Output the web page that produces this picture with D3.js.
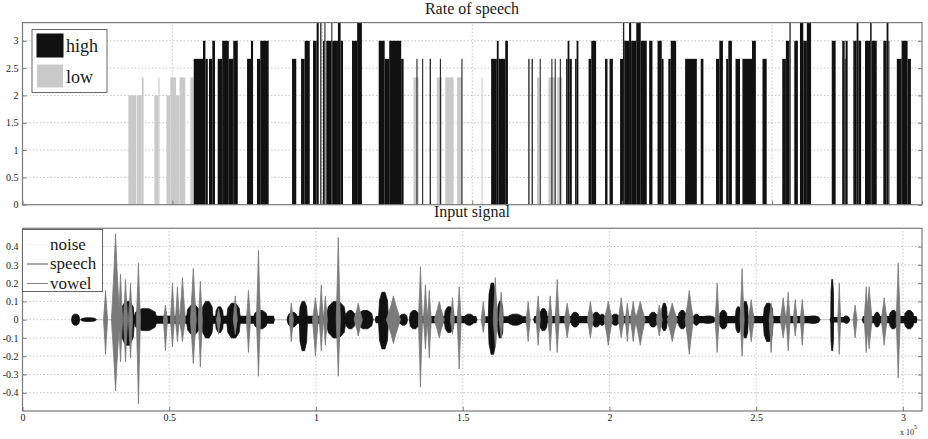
<!DOCTYPE html>
<html><head><meta charset="utf-8">
<script src="https://cdn.jsdelivr.net/npm/d3@7"></script>
<style>
body{margin:0;background:#fff}
svg{display:block}
svg text{font-family:"Liberation Serif","DejaVu Serif","Times New Roman",serif !important}
</style>
</head><body>
<svg id="chart" width="928" height="439"></svg>
<script>
// ---------- DATA ----------
const rateTitle = "Rate of speech";
const signalTitle = "Input signal";
const rateYTicks = [0, 0.5, 1, 1.5, 2, 2.5, 3];
const frameTicks = [0, 50, 100, 150, 200, 250, 300];
const signalYTicks = [-0.4, -0.3, -0.2, -0.1, 0, 0.1, 0.2, 0.3, 0.4];
const signalXTicks = [0, 0.5, 1, 1.5, 2, 2.5, 3];
const rateLegend = ["high", "low"];
const signalLegend = ["noise", "speech", "vowel"];

// rate of speech per frame: [startFrame, endFrame, rate]
const lowRate = [
  [35.3,38.0,2],[38.2,39.8,2],[39.8,40.4,2.33],[44.0,45.3,2],[45.3,45.7,2.33],
  [48.0,49.3,2],[49.3,51.2,2.33],[51.2,52.4,2],[52.4,54.3,2.33],[56.0,57.0,2.33],
  [130.4,132.1,2.33],[138.2,139.9,2.33],[141.0,143.8,2.33],[144.9,146.6,2.33],[153.1,153.4,2.33],
  [171.6,172.4,2.33],[175.4,177.7,2.33],[178.3,180.0,2.33]
];
const highRate = [
  [57.1,60.2,2.67],[60.2,61.0,3],[61.0,61.8,2.67],[62.2,63.3,2.67],[63.3,64.2,3],
  [65.1,66.6,2.67],[66.6,68.8,3],[68.8,70.3,2.67],[70.3,71.8,3],
  [74.9,76.2,2.67],[76.2,76.9,3],[78.2,79.3,2.67],[79.3,82.1,3],
  [89.9,91.3,2.67],[92.9,94.1,2.67],[94.1,95.8,3],
  [96.9,98.1,3],[98.1,98.8,3.33],[99.3,99.7,3.33],[100.2,100.7,3],[100.7,101.0,3.33],
  [101.3,103.0,3],[103.0,103.3,3.33],[103.3,105.2,3],[105.2,106.1,3.33],[106.1,106.9,3],
  [109.9,111.6,3],[111.6,113.2,3.33],
  [118.8,120.8,3],[120.8,122.3,2.67],[122.3,126.3,3],[126.3,127.1,2.67],
  [131.4,131.7,2.67],[133.3,133.6,2.67],[135.8,136.2,2.67],[139.2,139.5,2.67],[146.4,146.7,2.67],
  [156.3,158.2,2.67],[158.2,158.8,3],[158.8,161.0,2.67],[161.0,161.9,3],
  [168.7,169.1,2.67],[169.8,170.2,2.67],[172.5,172.8,2.67],[176.4,176.7,2.67],[177.5,177.8,2.67],[179.2,179.5,2.67],
  [181.3,181.8,2.67],[181.8,182.4,3],[182.4,183.2,2.67],[184.3,184.8,2.67],[184.8,185.4,3],
  [188.8,189.7,2.67],[189.7,191.3,3],[194.3,195.1,2.67],[195.8,196.9,2.67],
  [199.3,200.3,2.67],[200.3,200.7,3.33],[200.7,202.3,3],[202.3,203.0,3.33],[203.0,204.7,3],
  [204.7,206.2,3.33],[206.2,208.2,3],[209.0,210.1,3],[211.8,213.2,3],[213.2,213.8,2.67],
  [215.4,216.2,2.67],[216.2,218.0,3],[221.0,224.9,2.67],[226.2,227.1,2.67],
  [231.3,232.4,2.67],[232.4,233.6,3],[234.7,235.4,2.67],[235.4,236.6,3],
  [237.8,239.3,2.67],[240.1,243.3,2.67],[243.3,244.6,3],[246.8,248.2,2.67],
  [253.4,254.6,2.67],[254.6,255.8,3],[255.8,256.2,3.33],[257.4,258.6,3],
  [259.3,260.4,3.33],[260.4,261.6,3],[261.6,263.0,3.33],
  [269.9,271.2,3],[273.4,274.2,3],[274.2,274.5,2.67],[274.5,275.2,3],
  [277.1,278.2,3],[278.2,278.8,3.33],[278.8,279.7,3],
  [281.0,282.7,3],[282.7,283.2,3.33],[283.2,284.9,3],
  [287.1,288.2,3],[288.2,288.8,3.33],[288.8,289.0,3],
  [291.6,293.2,2.67],[293.2,295.2,3],[295.2,296.3,2.67]
];

// input signal (x 10^5 samples)
const noiseSpan = [0.17, 3.05];
// low-level speech stretches: [start, end, amplitude]
const speechBands = [
  [0.33,0.86,0.022],[0.90,1.18,0.022],[1.20,1.31,0.02],[1.32,1.55,0.02],[1.57,1.72,0.018],
  [1.74,1.96,0.02],[1.97,2.34,0.02],[2.36,2.71,0.02],[2.75,2.82,0.015],[2.86,3.05,0.02]
];
// envelope bursts: [centre, halfWidth, max, min]
const speechBursts = [
  [0.181,0.014,0.03,-0.03],[0.225,0.027,0.01,-0.01],[0.358,0.024,0.10,-0.14],[0.419,0.041,0.06,-0.06],
  [0.582,0.024,0.08,-0.08],[0.630,0.020,0.10,-0.10],[0.671,0.014,0.07,-0.07],[0.719,0.024,0.09,-0.10],
  [0.811,0.024,0.05,-0.05],[0.920,0.017,0.04,-0.04],[0.957,0.014,0.10,-0.17],[1.049,0.010,0.07,-0.07],
  [1.069,0.034,0.10,-0.10],[1.117,0.017,0.05,-0.05],[1.168,0.027,0.05,-0.05],[1.230,0.017,0.15,-0.16],
  [1.298,0.014,0.03,-0.03],[1.335,0.017,0.05,-0.05],[1.454,0.017,0.07,-0.07],[1.522,0.017,0.03,-0.03],
  [1.601,0.014,0.20,-0.19],[1.628,0.010,0.10,-0.10],[1.679,0.027,0.03,-0.03],[1.775,0.014,0.06,-0.06],
  [1.883,0.014,0.04,-0.04],[1.955,0.014,0.04,-0.04],[1.975,0.010,0.03,-0.03],[2.020,0.014,0.03,-0.03],
  [2.149,0.014,0.04,-0.04],[2.187,0.010,0.09,-0.06],[2.248,0.014,0.05,-0.05],[2.296,0.010,0.03,-0.03],
  [2.337,0.024,0.02,-0.02],[2.388,0.014,0.05,-0.05],[2.439,0.010,0.07,-0.07],[2.463,0.010,0.10,-0.10],
  [2.541,0.017,0.09,-0.12],[2.694,0.024,0.02,-0.02],[2.759,0.005,0.22,-0.17],[2.807,0.010,0.02,-0.02],
  [2.912,0.010,0.04,-0.04],[2.967,0.014,0.05,-0.05],[3.021,0.017,0.05,-0.05]
];
const vowelBursts = [
  [0.283,0.007,0.16,-0.19],[0.317,0.014,0.47,-0.39],[0.334,0.007,0.25,-0.23],[0.351,0.007,0.22,-0.23],
  [0.368,0.007,0.20,-0.21],[0.395,0.007,0.31,-0.46],[0.487,0.007,0.08,-0.17],[0.511,0.007,0.20,-0.15],
  [0.528,0.007,0.18,-0.12],[0.545,0.010,0.23,-0.12],[0.582,0.010,0.28,-0.24],[0.606,0.007,0.21,-0.26],
  [0.668,0.007,0.06,-0.08],[0.725,0.007,0.13,-0.08],[0.770,0.007,0.16,-0.18],[0.804,0.007,0.38,-0.31],
  [0.916,0.007,0.09,-0.12],[0.998,0.010,0.12,-0.20],[1.018,0.007,0.19,-0.17],[1.032,0.007,0.13,-0.14],
  [1.076,0.007,0.45,-0.31],[1.144,0.014,0.09,-0.09],[1.264,0.024,0.13,-0.13],[1.356,0.007,0.29,-0.37],
  [1.373,0.007,0.19,-0.16],[1.386,0.007,0.16,-0.21],[1.420,0.017,0.10,-0.10],[1.465,0.007,0.12,-0.08],
  [1.488,0.007,0.18,-0.27],[1.570,0.007,0.10,-0.07],[1.611,0.007,0.23,-0.15],[1.631,0.007,0.15,-0.10],
  [1.723,0.007,0.10,-0.12],[1.757,0.007,0.13,-0.14],[1.798,0.007,0.13,-0.17],[1.822,0.007,0.22,-0.18],
  [1.856,0.010,0.09,-0.10],[1.935,0.010,0.10,-0.10],[1.996,0.014,0.10,-0.14],[2.040,0.010,0.12,-0.10],
  [2.061,0.007,0.09,-0.12],[2.081,0.010,0.10,-0.12],[2.105,0.017,0.10,-0.14],[2.170,0.010,0.08,-0.09],
  [2.214,0.017,0.09,-0.12],[2.272,0.014,0.16,-0.19],[2.367,0.007,0.20,-0.18],[2.452,0.007,0.28,-0.20],
  [2.483,0.010,0.11,-0.12],[2.551,0.007,0.09,-0.18],[2.592,0.010,0.12,-0.10],[2.609,0.007,0.15,-0.17],
  [2.633,0.007,0.11,-0.09],[2.657,0.007,0.11,-0.14],[2.783,0.005,0.20,-0.19],[2.837,0.007,0.08,-0.10],
  [2.875,0.007,0.18,-0.18],[2.885,0.010,0.18,-0.16],[2.936,0.010,0.12,-0.14],[2.984,0.007,0.31,-0.32]
];

// ---------- STYLE ----------
const FONT = "Liberation Serif, DejaVu Serif, serif";
const C = {high:"#111", low:"#c9c9c9", speech:"#111", vowel:"#7a7a7a", noise:"#c8c8c8",
           frame:"#7a7a7a", grid:"#c4c4c4", text:"#1a1a1a"};

const svg = d3.select("#chart").attr("font-family", FONT);
const L = 22.5, R = 922;

// ---------- TOP PANEL ----------
const xTop = d3.scaleLinear().domain([0, 300]).range([L, R]);
const yTop = d3.scaleLinear().domain([0, 3.333]).range([204.7, 22.6]);

function grid(g, xs, ys, xScale, yScale) {
  g.selectAll(".gx").data(xs).join("line")
    .attr("x1", d => xScale(d)).attr("x2", d => xScale(d))
    .attr("y1", yScale.range()[0]).attr("y2", yScale.range()[1])
    .attr("stroke", C.grid).attr("stroke-dasharray", "1.5,2").attr("stroke-width", 1);
  g.selectAll(".gy").data(ys).join("line")
    .attr("x1", xScale.range()[0]).attr("x2", xScale.range()[1])
    .attr("y1", d => yScale(d)).attr("y2", d => yScale(d))
    .attr("stroke", C.grid).attr("stroke-dasharray", "1.5,2").attr("stroke-width", 1);
}

const topG = svg.append("g");
topG.append("g").call(grid, frameTicks.filter(d => d > 0 && d < 300), rateYTicks.filter(d => d > 0), xTop, yTop);

function drawBars(data, color) {
  topG.append("g").selectAll("rect").data(data).join("rect")
    .attr("x", d => xTop(d[0]))
    .attr("width", d => Math.max(1, xTop(d[1]) - xTop(d[0])))
    .attr("y", d => yTop(d[2]))
    .attr("height", d => yTop(0) - yTop(d[2]))
    .attr("fill", color);
}
drawBars(lowRate, C.low);
drawBars(highRate, C.high);

function styleAxis(g, withText) {
  g.attr("font-family", FONT);
  g.select(".domain").remove();
  g.selectAll("line").attr("stroke", C.frame);
  if (withText) g.selectAll("text").attr("font-size", 10).attr("fill", C.text);
}

topG.append("g").attr("transform", `translate(${L},0)`)
  .call(d3.axisLeft(yTop).tickValues(rateYTicks).tickSize(-4).tickPadding(4).tickFormat(d => String(d)))
  .call(styleAxis, true);
topG.append("g").attr("transform", `translate(${R},0)`)
  .call(d3.axisRight(yTop).tickValues(rateYTicks).tickSize(-4).tickFormat(""))
  .call(styleAxis, false);
topG.append("g").attr("transform", `translate(0,${yTop(0)})`)
  .call(d3.axisBottom(xTop).tickValues(frameTicks).tickSize(-4).tickFormat(""))
  .call(styleAxis, false);
topG.append("rect").attr("x", L).attr("y", yTop.range()[1])
  .attr("width", R - L).attr("height", yTop.range()[0] - yTop.range()[1])
  .attr("fill", "none").attr("stroke", C.frame).attr("stroke-width", 1.2);

svg.append("text").attr("x", 472).attr("y", 14).attr("text-anchor", "middle")
  .attr("font-size", 16).attr("fill", C.text).text(rateTitle);

// legend top
const lg1 = svg.append("g");
lg1.append("rect").attr("x", 32).attr("y", 29.5).attr("width", 75).attr("height", 63)
  .attr("fill", "#fff").attr("stroke", "#666").attr("stroke-width", 1);
[C.high, C.low].forEach((c, i) => {
  lg1.append("rect").attr("x", 37).attr("y", 34 + i * 30.5).attr("width", 26).attr("height", 23)
    .attr("fill", c).attr("stroke", i === 0 ? "#111" : "none");
  lg1.append("text").attr("x", 66).attr("y", 52 + i * 30.5).attr("font-size", 18)
    .attr("fill", C.text).text(rateLegend[i]);
});

// ---------- BOTTOM PANEL ----------
const xBot = d3.scaleLinear().domain([0, 3.065]).range([L, R]);
const yBot = d3.scaleLinear().domain([-0.5, 0.5]).range([411, 228.3]);

const botG = svg.append("g");
botG.append("g").call(grid, signalXTicks.filter(d => d > 0), signalYTicks, xBot, yBot);

// noise trace
botG.append("line").attr("x1", xBot(noiseSpan[0])).attr("x2", xBot(noiseSpan[1]))
  .attr("y1", yBot(0)).attr("y2", yBot(0)).attr("stroke", C.noise).attr("stroke-width", 1.2);

const envLine = d3.line().x(d => xBot(d[0])).y(d => yBot(d[1]));
// speech bands (low-level continuous speech)
botG.append("g").selectAll("path").data(speechBands).join("path")
  .attr("d", d => envLine([[d[0], 0], [d[0] + 0.004, d[2]], [d[1] - 0.004, d[2]], [d[1], 0],
                           [d[1] - 0.004, -d[2]], [d[0] + 0.004, -d[2]], [d[0], 0]]))
  .attr("fill", C.speech);

function speechPts(b) {
  const [c, h, up, dn] = b;
  return [[c - h, 0], [c - h * 0.8, up * 0.7], [c - h * 0.3, up], [c + h * 0.3, up], [c + h * 0.8, up * 0.7], [c + h, 0],
          [c + h * 0.8, dn * 0.7], [c + h * 0.3, dn], [c - h * 0.3, dn], [c - h * 0.8, dn * 0.7], [c - h, 0]];
}
function vowelPts(b) {
  const [c, h, up, dn] = b;
  return [[c - h, 0], [c - h * 0.35, up * 0.6], [c, up], [c + h * 0.35, up * 0.6], [c + h, 0],
          [c + h * 0.35, dn * 0.6], [c, dn], [c - h * 0.35, dn * 0.6], [c - h, 0]];
}
function drawBursts(data, color, ptsFn) {
  botG.append("g").selectAll("path").data(data).join("path")
    .attr("d", d => envLine(ptsFn(d)))
    .attr("fill", color).attr("stroke", color).attr("stroke-width", 0.8).attr("stroke-linejoin", "round");
}
drawBursts(speechBursts, C.speech, speechPts);
drawBursts(vowelBursts, C.vowel, vowelPts);

botG.append("g").attr("transform", `translate(${L},0)`)
  .call(d3.axisLeft(yBot).tickValues(signalYTicks).tickSize(-4).tickPadding(4).tickFormat(d => String(d)))
  .call(styleAxis, true);
botG.append("g").attr("transform", `translate(${R},0)`)
  .call(d3.axisRight(yBot).tickValues(signalYTicks).tickSize(-4).tickFormat(""))
  .call(styleAxis, false);
botG.append("g").attr("transform", `translate(0,411)`)
  .call(d3.axisBottom(xBot).tickValues(signalXTicks).tickSize(-4).tickPadding(3).tickFormat(d => String(d)))
  .call(styleAxis, true);
botG.append("rect").attr("x", L).attr("y", 228.3).attr("width", R - L).attr("height", 411 - 228.3)
  .attr("fill", "none").attr("stroke", C.frame).attr("stroke-width", 1.2);

svg.append("text").attr("x", 472).attr("y", 217).attr("text-anchor", "middle")
  .attr("font-size", 16).attr("fill", C.text).text(signalTitle);

const ex = svg.append("text").attr("x", 900).attr("y", 435).attr("font-size", 8).attr("fill", C.text);
ex.append("tspan").text("x 10");
ex.append("tspan").attr("dy", -6).attr("font-size", 6).text("5");

// legend bottom
const lg2 = svg.append("g");
lg2.append("rect").attr("x", 22.5).attr("y", 229.5).attr("width", 80).attr("height", 62)
  .attr("fill", "#fff").attr("stroke", "#666").attr("stroke-width", 1);
[C.noise, C.speech, C.vowel].forEach((c, i) => {
  const cy = 244.5 + i * 19.5;
  lg2.append("line").attr("x1", 27).attr("x2", 48).attr("y1", cy).attr("y2", cy)
    .attr("stroke", i === 0 ? "#f4f4f4" : (i === 1 ? "#555" : "#888")).attr("stroke-width", 1);
  lg2.append("text").attr("x", 50).attr("y", cy + 5).attr("font-size", 17)
    .attr("fill", C.text).text(signalLegend[i]);
});
</script>
</body></html>
